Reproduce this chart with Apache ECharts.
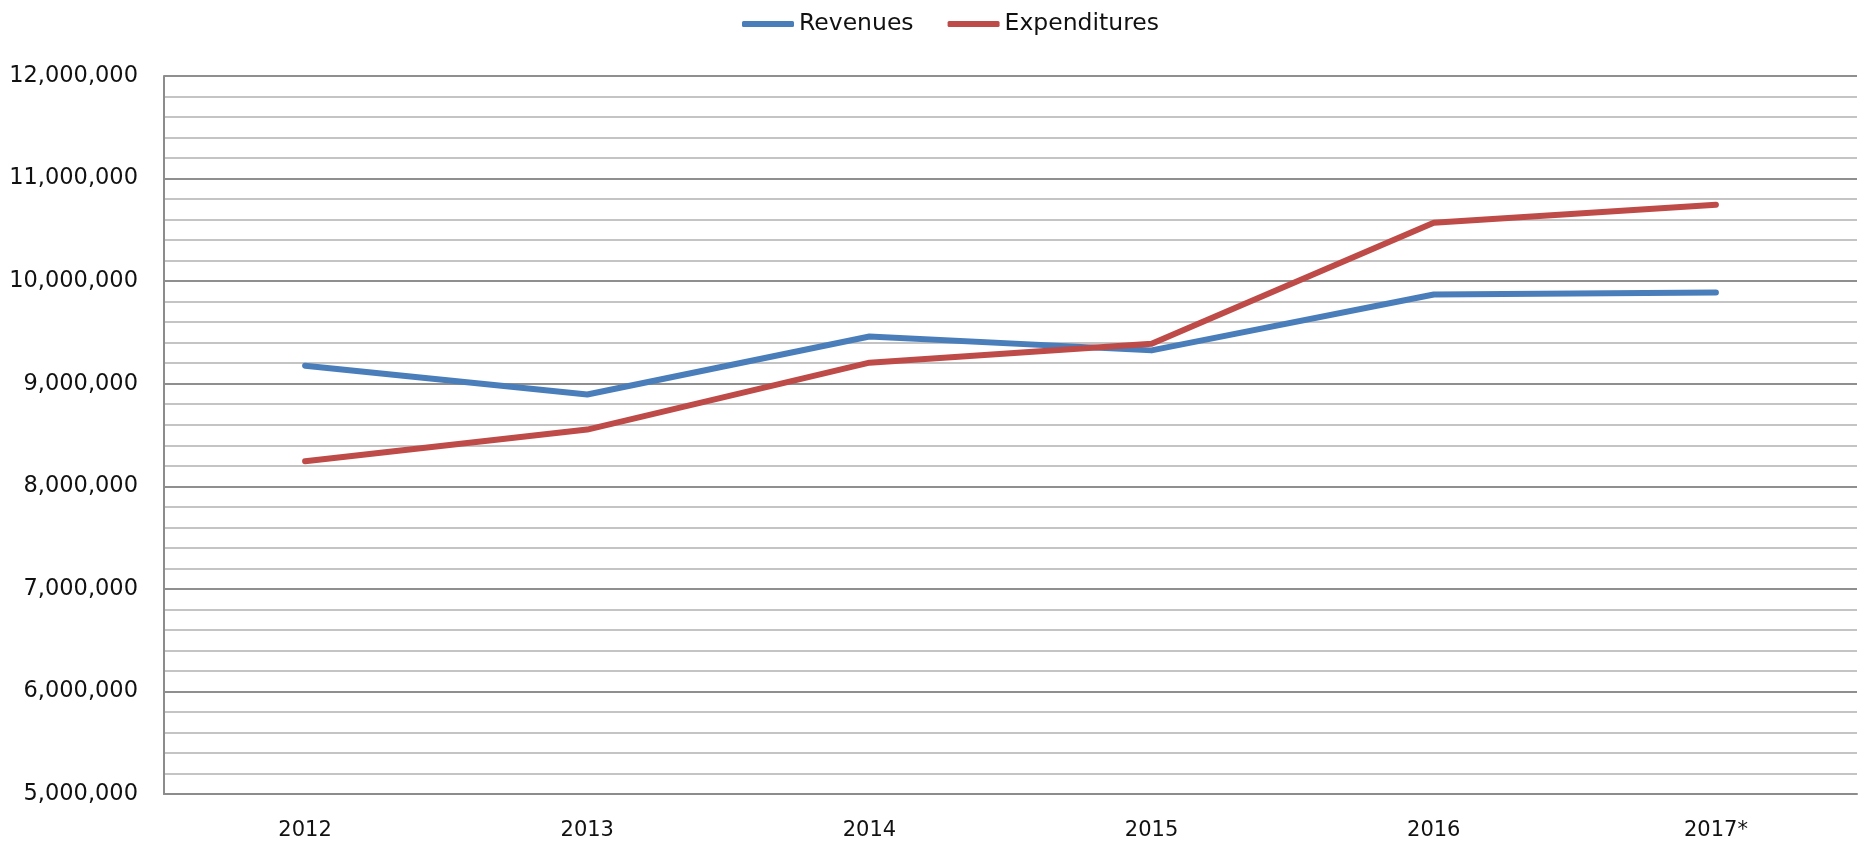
<!DOCTYPE html>
<html>
<head>
<meta charset="utf-8">
<script src="https://cdn.jsdelivr.net/npm/echarts@6/dist/echarts.min.js"></script>
<style>html,body{margin:0;padding:0;background:#fff}#c{width:1858px;height:841px}</style>
</head>
<body>
<div id="c"></div>
<script>
const categories = ['2012', '2013', '2014', '2015', '2016', '2017*'];
const revenues = [9176000, 8895000, 9460000, 9325000, 9870000, 9890000];
const expenditures = [8245000, 8553000, 9205000, 9390000, 10570000, 10745000];
const seriesNames = ['Revenues', 'Expenditures'];

const chart = echarts.init(document.getElementById('c'));
const font = 'DejaVu Sans';
chart.setOption({
  animation: false,
  backgroundColor: '#ffffff',
  legend: {
    data: seriesNames,
    top: 7,
    left: 737,
    icon: 'roundRect',
    itemWidth: 52,
    itemHeight: 6,
    itemGap: 34,
    textStyle: { fontFamily: font, fontSize: 23.5, color: '#111111' }
  },
  grid: { left: 164, right: 1, top: 76, bottom: 46, containLabel: false },
  xAxis: {
    type: 'category',
    data: categories,
    boundaryGap: true,
    axisLine: { show: true, lineStyle: { color: '#8c8c8c', width: 2 } },
    axisTick: { show: false },
    axisLabel: { fontFamily: font, fontSize: 21, color: '#111111', margin: 26 },
    splitLine: { show: false }
  },
  yAxis: {
    type: 'value',
    min: 5000000,
    max: 12000000,
    interval: 1000000,
    axisLine: { show: true, lineStyle: { color: '#8c8c8c', width: 2 } },
    axisTick: { show: false },
    axisLabel: {
      fontFamily: font, fontSize: 22.5, color: '#111111', margin: 26,
      formatter: v => v.toLocaleString('en-US')
    },
    splitLine: { show: true, lineStyle: { color: '#8f8f8f', width: 2 } },
    minorTick: { show: false, splitNumber: 5 },
    minorSplitLine: { show: true, lineStyle: { color: '#c4c4c4', width: 2 } }
  },
  series: [
    {
      name: seriesNames[0], type: 'line', data: revenues,
      symbol: 'none', color: '#4a7ebb',
      lineStyle: { width: 6, color: '#4a7ebb', cap: 'round', join: 'round' }
    },
    {
      name: seriesNames[1], type: 'line', data: expenditures,
      symbol: 'none', color: '#be4b48',
      lineStyle: { width: 6, color: '#be4b48', cap: 'round', join: 'round' }
    }
  ]
});
</script>
</body>
</html>
